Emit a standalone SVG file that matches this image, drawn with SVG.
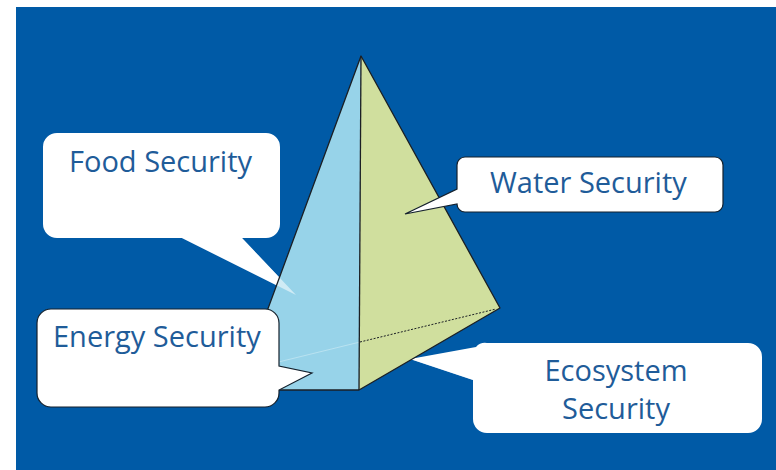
<svg xmlns="http://www.w3.org/2000/svg" width="776" height="470" viewBox="0 0 776 470">
  <style>
    .label { font-family: "Open Sans", "Liberation Sans", sans-serif; font-size: 29px; fill: #1f5c99; }
    .edge { fill: none; stroke: #1b1f24; stroke-width: 1.3; stroke-linejoin: round; }
    .bubble-plain { fill: #ffffff; }
    .bubble-outlined { fill: #ffffff; stroke: #14202c; stroke-width: 1.2; stroke-linejoin: miter; }
  </style>

  <!-- page and blue panel -->
  <rect x="0" y="0" width="776" height="470" fill="#ffffff"/>
  <rect x="16" y="7" width="760" height="463" fill="#005aa6"/>

  <!-- callouts sitting behind the pyramid -->
  <g id="food-security">
    <path class="bubble-plain" d="M57,133 H266 A14,14 0 0 1 280,147 V224 A14,14 0 0 1 266,238 H242 L296,295 L182,238 H57 A14,14 0 0 1 43,224 V147 A14,14 0 0 1 57,133 Z"/>
    <text class="label" x="69" y="172">Food Security</text>
  </g>

  <g id="ecosystem-security">
    <path class="bubble-plain" d="M487,343 H748 A14,14 0 0 1 762,357 V419 A14,14 0 0 1 748,433 H487 A14,14 0 0 1 473,419 V380 L410,359 L476,347 A12,12 0 0 1 487,343 Z"/>
    <text class="label" x="616" y="381" text-anchor="middle">Ecosystem</text>
    <text class="label" x="616" y="419" text-anchor="middle">Security</text>
  </g>

  <!-- pyramid -->
  <g id="pyramid">
    <polygon points="361,56 238,390 359,390" fill="#97d3e9"/>
    <polygon points="361,56 359,390 500,308" fill="#d0df9e"/>
    <!-- callout tails seen through the faces -->
    <polygon points="182,238 296,295 242,238" fill="#ffffff" fill-opacity="0.55"/>
    <polygon points="473,352 410,359 473,380" fill="#ffffff" fill-opacity="0.55"/>
    <!-- hidden back edge of the base -->
    <line x1="360" y1="342" x2="250" y2="369" stroke="#b9e2f0" stroke-width="1"/>
    <line x1="360" y1="342" x2="496" y2="309" stroke="#1b1f24" stroke-width="1" stroke-dasharray="2,1.5"/>
    <!-- visible edges -->
    <polyline class="edge" points="238,390 361,56 500,308 359,390 238,390"/>
    <line class="edge" x1="361" y1="56" x2="359" y2="390"/>
  </g>

  <!-- callouts in front of the pyramid -->
  <g id="water-security">
    <path class="bubble-outlined" d="M465,157 H715 A8,8 0 0 1 723,165 V204 A8,8 0 0 1 715,212 H465 A8,8 0 0 1 457,204 L405,214 L457,189 V165 A8,8 0 0 1 465,157 Z"/>
    <text class="label" x="490" y="193">Water Security</text>
  </g>

  <g id="energy-security">
    <path class="bubble-outlined" d="M51,309 H265 A14,14 0 0 1 279,323 V366 L312,373 L279,390 V393 A14,14 0 0 1 265,407 H51 A14,14 0 0 1 37,393 V323 A14,14 0 0 1 51,309 Z"/>
    <text class="label" x="53" y="347">Energy Security</text>
  </g>
</svg>
